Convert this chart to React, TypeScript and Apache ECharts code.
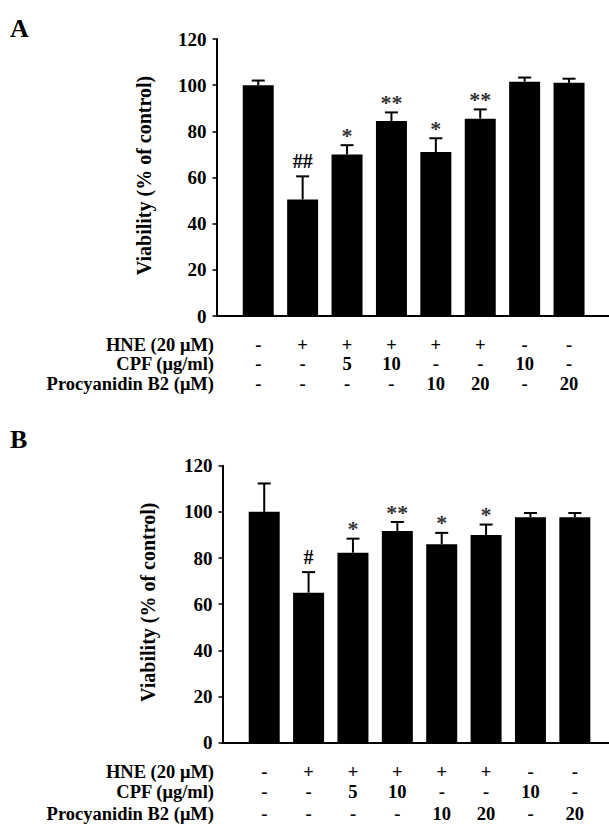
import React, { useEffect, useRef } from 'react';
import * as echarts from 'echarts';

// ---- data ----
const categories = ['Control', 'HNE', 'HNE+CPF 5', 'HNE+CPF 10', 'HNE+PB2 10', 'HNE+PB2 20', 'CPF 10', 'PB2 20'];
const hneRow = ['-', '+', '+', '+', '+', '+', '-', '-'];
const cpfRow = ['-', '-', '5', '10', '-', '-', '10', '-'];
const procRow = ['-', '-', '-', '-', '10', '20', '-', '20'];
const rowLabels = ['HNE (20 \u03bcM)', 'CPF (\u03bcg/ml)', 'Procyanidin B2 (\u03bcM)'];

const viabilityA = [100, 50.5, 70, 84.5, 71, 85.5, 101.5, 101];
const errorA = [2, 10, 4, 3.7, 6, 4, 1.8, 1.8];
const signifA = ['', '##', '*', '**', '*', '**', '', ''];

const viabilityB = [100, 65, 82.3, 91.7, 86, 90, 97.7, 97.7];
const errorB = [12.3, 8.9, 6.1, 3.9, 4.9, 4.5, 1.8, 1.8];
const signifB = ['', '#', '*', '**', '*', '*', '', ''];

const yMin = 0;
const yMax = 120;
const yStep = 20;
const yTitle = 'Viability (% of control)';
const panelLetters = ['A', 'B'];

// ---- layout / style ----
const FONT = '"Liberation Serif", "Times New Roman", serif';
const FS = 19;
const TFS = 18.5;
const panels = [
  { left: 216.5, top: 39, xMin: -0.94, xMax: 7.9, rowOff: [29, 48, 68], titleX: 144, letterY: 30 },
  { left: 222.5, top: 465.7, xMin: -0.94, xMax: 7.77, rowOff: [29.5, 49.5, 71], titleX: 148, letterY: 441 },
];
const PLOT_H = 277;

const textStyle = (text: string, extra: any = {}) => ({
  text,
  fill: '#000',
  fontFamily: FONT,
  fontSize: FS,
  fontWeight: 'bold',
  align: 'center',
  verticalAlign: 'middle',
  ...extra,
});

function buildOption() {
  const datasets = [
    { v: viabilityA, e: errorA, s: signifA },
    { v: viabilityB, e: errorB, s: signifB },
  ];
  const rows = [hneRow, cpfRow, procRow];

  const grid = panels.map((p) => ({ left: p.left, right: 0, top: p.top, height: PLOT_H }));
  const xAxis = panels.map((p, k) => ({
    gridIndex: k,
    type: 'value',
    min: p.xMin,
    max: p.xMax,
    axisLine: { show: true, onZero: false, lineStyle: { color: '#000', width: 2 } },
    axisTick: { show: false },
    axisLabel: { show: false },
    splitLine: { show: false },
  }));
  const yAxis = panels.map((p, k) => ({
    gridIndex: k,
    type: 'value',
    min: yMin,
    max: yMax,
    interval: yStep,
    axisLine: { show: true, onZero: false, lineStyle: { color: '#000', width: 2 } },
    axisTick: { show: true, inside: false, length: 4, lineStyle: { color: '#000', width: 1.5 } },
    axisLabel: { color: '#000', fontFamily: FONT, fontSize: FS, fontWeight: 'bold', margin: 10 },
    splitLine: { show: false },
  }));

  const series: any[] = [];
  datasets.forEach((d, k) => {
    series.push({
      type: 'bar',
      xAxisIndex: k,
      yAxisIndex: k,
      barWidth: 31,
      itemStyle: { color: '#000' },
      data: d.v.map((v, i) => [i, v]),
      silent: true,
    });
    series.push({
      type: 'custom',
      xAxisIndex: k,
      yAxisIndex: k,
      clip: false,
      silent: true,
      data: d.v.map((v, i) => [i, v, d.e[i]]),
      renderItem: (params: any, api: any) => {
        const i = api.value(0);
        const m = api.value(1);
        const e = api.value(2);
        const base = api.coord([i, m]);
        const top = api.coord([i, m + e]);
        const children: any[] = [
          { type: 'line', shape: { x1: base[0], y1: base[1], x2: top[0], y2: top[1] }, style: { stroke: '#000', lineWidth: 2 } },
          { type: 'line', shape: { x1: top[0] - 6.5, y1: top[1], x2: top[0] + 6.5, y2: top[1] }, style: { stroke: '#000', lineWidth: 2 } },
        ];
        const mark = d.s[params.dataIndex];
        if (mark) {
          const isHash = mark.indexOf('#') >= 0;
          children.push({
            type: 'text',
            x: top[0],
            y: top[1] - (isHash ? 15 : 10),
            style: textStyle(mark, { fill: isHash ? '#000' : '#333', fontSize: isHash ? 20 : 22 }),
          });
        }
        return { type: 'group', children };
      },
    });
    series.push({
      type: 'custom',
      xAxisIndex: k,
      yAxisIndex: k,
      clip: false,
      silent: true,
      data: categories.map((_, i) => [i, 0]),
      renderItem: (params: any, api: any) => {
        const p = api.coord([api.value(0), 0]);
        return {
          type: 'group',
          children: rows.map((row, r) => ({
            type: 'text',
            x: p[0],
            y: p[1] + panels[k].rowOff[r],
            style: textStyle(row[params.dataIndex], { fontSize: TFS }),
          })),
        };
      },
    });
  });

  const graphic: any[] = [];
  panels.forEach((p, k) => {
    graphic.push({
      type: 'text',
      left: 10,
      top: p.letterY - 15,
      style: { text: panelLetters[k], fill: '#000', fontFamily: FONT, fontSize: 26, fontWeight: 'bold' },
    });
    graphic.push({
      type: 'text',
      x: p.titleX,
      y: p.top + PLOT_H / 2 - 2,
      rotation: Math.PI / 2,
      style: textStyle(yTitle, { fontSize: 20 }),
    });
    rowLabels.forEach((lab, r) => {
      graphic.push({
        type: 'text',
        x: 214,
        y: p.top + PLOT_H + p.rowOff[r],
        style: textStyle(lab, { align: 'right', fontSize: TFS }),
      });
    });
  });

  return { animation: false, backgroundColor: '#fff', grid, xAxis, yAxis, series, graphic };
}

export default function App() {
  const ref = useRef<HTMLDivElement>(null);
  useEffect(() => {
    if (!ref.current) return;
    const chart = echarts.init(ref.current, null, { renderer: 'svg' });
    chart.setOption(buildOption() as any);
    return () => chart.dispose();
  }, []);
  return (
    <div
      ref={ref}
      style={{ position: 'absolute', left: 0, top: 0, width: 609, height: 824, background: '#fff' }}
    />
  );
}
